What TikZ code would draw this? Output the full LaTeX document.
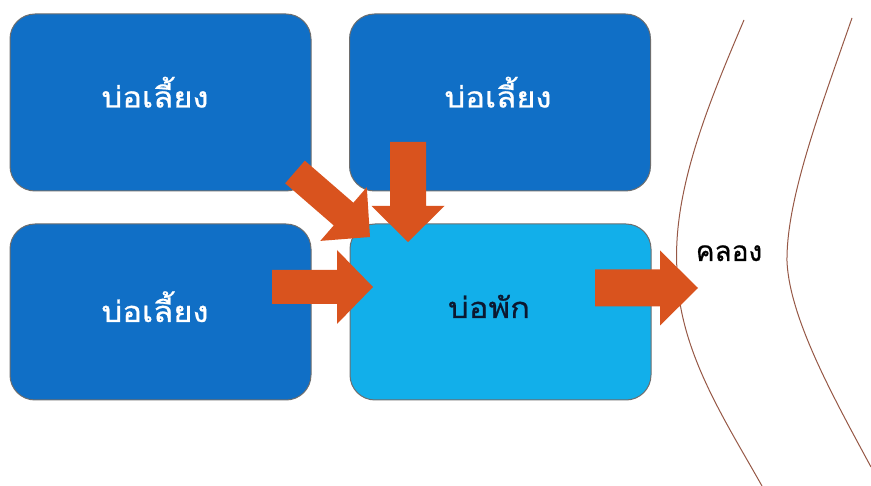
\documentclass[tikz,border=0pt]{standalone}
\usepackage{fontspec}
\usepackage{graphicx}
\newfontfamily\thaifont[Script=Thai, FakeBold=0.7]{Loma}
\usetikzlibrary{calc}

\definecolor{pondblue}{RGB}{16,111,198}
\definecolor{restblue}{RGB}{18,175,234}
\definecolor{boxedge}{RGB}{110,110,110}
\definecolor{flow}{RGB}{217,83,30}
\definecolor{bank}{RGB}{150,88,70}
\definecolor{darktext}{RGB}{12,24,48}

% wide Thai lettering
\newcommand\widethai[1]{\scalebox{1.13}[1]{#1}}

\tikzset{
  pondbox/.style={draw=boxedge, line width=1pt, rounded corners=25pt,
    minimum width=301pt, minimum height=177pt, inner sep=0pt},
  feedpond/.style={pondbox, fill=pondblue},
  restpond/.style={pondbox, fill=restblue},
  pondlabel/.style={anchor=base, inner sep=0pt,
    font=\thaifont\fontsize{29}{34}\selectfont},
  canallabel/.style={anchor=base, font=\thaifont\fontsize{28}{34}\selectfont,
    text=black, inner sep=0pt},
  bankline/.style={draw=bank, line width=1pt},
  flowfill/.style={fill=flow}
}

% block arrow: tail, tip, half shaft width, half head width, head length
\newcommand\blockarrow[5]{%
  \coordinate (hb) at ($(#2)!#5!(#1)$);
  \fill[flowfill] ($(#1)!#3!90:(#2)$) -- ($(hb)!#3!90:(#2)$) -- ($(hb)!#4!90:(#2)$)
    -- (#2) -- ($(hb)!#4!-90:(#2)$) -- ($(hb)!#3!-90:(#2)$) -- ($(#1)!#3!-90:(#2)$) -- cycle;
}

\begin{document}
\begin{tikzpicture}[x=1pt, y=-1pt]
  \useasboundingbox (0,0) rectangle (871,486);

  % ponds
  \node[feedpond] (feedA) at (160.5,102.5) {};
  \node[feedpond] (feedB) at (500,102.5) {};
  \node[feedpond, minimum height=176pt] (feedC) at (160.5,312) {};
  \node[restpond, minimum height=176pt] (rest) at (500.5,312) {};

  \node[pondlabel, text=white] (feedAtext) at (155,107.5) {\widethai{บ่อเลี้ยง}};
  \node[pondlabel, text=white] (feedBtext) at (498,107.5) {\widethai{บ่อเลี้ยง}};
  \node[pondlabel, text=white] (feedCtext) at (155,322) {\widethai{บ่อเลี้ยง}};
  \node[pondlabel, text=darktext] (resttext) at (489,318) {\widethai{บ่อพัก}};

  % canal banks
  \draw[bankline] (744,20) .. controls (710,100) and (672,190) .. (677,270)
                   .. controls (678,350) and (725,420) .. (762,486);
  \draw[bankline] (852,18) .. controls (820,110) and (786,200) .. (787,262)
                   .. controls (790,320) and (835,400) .. (871,467);
  \node[canallabel] (canal) at (729,261) {คลอง};

  % flow arrow end points
  \coordinate (tailA) at (295,172);
  \coordinate (tipA) at (370,237);
  \coordinate (tailB) at (408,142);
  \coordinate (tipB) at (408,242);
  \coordinate (tailC) at (272,287);
  \coordinate (tipC) at (373,287);
  \coordinate (tailR) at (595,288);
  \coordinate (tipR) at (698,288);

  \blockarrow{tailA}{tipA}{15pt}{35.5pt}{35pt}
  \blockarrow{tailB}{tipB}{18pt}{36.5pt}{36pt}
  \blockarrow{tailC}{tipC}{17pt}{37pt}{36pt}
  \blockarrow{tailR}{tipR}{18.5pt}{37.5pt}{38pt}
\end{tikzpicture}
\end{document}
